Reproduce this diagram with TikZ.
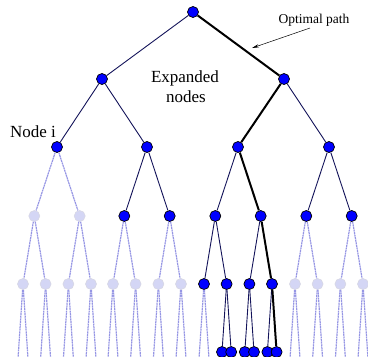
\documentclass[tikz,border=0pt]{standalone}
\usepackage{fontspec}
\setmainfont{Liberation Serif}
\usetikzlibrary{arrows.meta}
\definecolor{navyedge}{RGB}{20,20,90}
\definecolor{lightedgecol}{RGB}{150,150,228}
\definecolor{lightfill}{RGB}{212,214,245}
\definecolor{lightrim}{RGB}{215,215,228}
\begin{document}
\begin{tikzpicture}[x=1pt,y=-1pt,
 expnode/.style={circle,draw=black,line width=0.7pt,fill=blue,inner sep=0pt,minimum size=11pt},
 unexpnode/.style={circle,draw=lightrim,line width=0.6pt,fill=lightfill,inner sep=0pt,minimum size=11pt},
 darkedge/.style={draw=navyedge,line width=0.9pt},
 optedge/.style={draw=black,line width=2pt},
 lightedge/.style={draw=lightedgecol,line width=1.2pt,dash pattern=on 2pt off 0.6pt},
 lbl/.style={inner sep=0pt,anchor=base}
]
\useasboundingbox (0,0) rectangle (368,357);
\clip (0,0) rectangle (368,357);
% level 0-2
\node[expnode] (r) at (193,12) {};
\node[expnode] (a1) at (102,79) {};
\node[expnode] (a2) at (284,79) {};
\node[expnode] (b1) at (57,147) {};
\node[expnode] (b2) at (147,147) {};
\node[expnode] (b3) at (238,147) {};
\node[expnode] (b4) at (329,147) {};
% level 3
\node[unexpnode] (c1) at (34.3,216) {};
\node[unexpnode] (c2) at (79.7,216) {};
\node[expnode] (c3) at (124.3,216) {};
\node[expnode] (c4) at (169.7,216) {};
\node[expnode] (c5) at (215.3,216) {};
\node[expnode] (c6) at (260.7,216) {};
\node[expnode] (c7) at (306.3,216) {};
\node[expnode] (c8) at (351.7,216) {};
% level 4
\foreach \i/\x in {1/23,2/45.6,3/68.4,4/91,5/113,6/135.6,7/158.4,8/181,13/295,14/317.6,15/340.4,16/363}
  \node[unexpnode] (d\i) at (\x,284) {};
\node[expnode] (d9) at (204,284) {};
\node[expnode] (d10) at (226.6,284) {};
\node[expnode] (d11) at (249.4,284) {};
\node[expnode] (d12) at (272,284) {};
% level 5
\node[expnode] (e19) at (222,352) {};
\node[expnode] (e20) at (231.2,352) {};
\node[expnode] (e21) at (244.8,352) {};
\node[expnode] (e22) at (254,352) {};
\node[expnode] (e23) at (267.4,352) {};
\node[expnode] (e24) at (276.6,352) {};
% dark edges
\draw[darkedge] (r) -- (a1);
\draw[darkedge] (a1) -- (b1);
\draw[darkedge] (a1) -- (b2);
\draw[darkedge] (a2) -- (b4);
\draw[darkedge] (b2) -- (c3);
\draw[darkedge] (b2) -- (c4);
\draw[darkedge] (b3) -- (c5);
\draw[darkedge] (b4) -- (c7);
\draw[darkedge] (b4) -- (c8);
\draw[darkedge] (c5) -- (d9);
\draw[darkedge] (c5) -- (d10);
\draw[darkedge] (c6) -- (d11);
\draw[darkedge] (d10) -- (e19);
\draw[darkedge] (d10) -- (e20);
\draw[darkedge] (d11) -- (e21);
\draw[darkedge] (d11) -- (e22);
\draw[darkedge] (d12) -- (e23);
% optimal path
\draw[optedge] (r) -- (a2);
\draw[optedge] (a2) -- (b3);
\draw[optedge] (b3) -- (c6);
\draw[optedge] (c6) -- (d12);
\draw[optedge] (d12) -- (e24);
% light edges
\draw[lightedge] (b1) -- (c1);
\draw[lightedge] (b1) -- (c2);
\draw[lightedge] (c1) -- (d1);
\draw[lightedge] (c1) -- (d2);
\draw[lightedge] (c2) -- (d3);
\draw[lightedge] (c2) -- (d4);
\draw[lightedge] (c3) -- (d5);
\draw[lightedge] (c3) -- (d6);
\draw[lightedge] (c4) -- (d7);
\draw[lightedge] (c4) -- (d8);
\draw[lightedge] (c7) -- (d13);
\draw[lightedge] (c7) -- (d14);
\draw[lightedge] (c8) -- (d15);
\draw[lightedge] (c8) -- (d16);
\foreach \i in {1,2,3,4,5,6,7,8,9,13,14,15,16} {
  \path (d\i.center) ++(-5.1,76) coordinate (fL\i);
  \path (d\i.center) ++(5.1,76) coordinate (fR\i);
  \draw[lightedge] (d\i) -- (fL\i);
  \draw[lightedge] (d\i) -- (fR\i);
}
% labels
\node[lbl,font=\fontsize{17}{20}\selectfont] (expA) at (185,82) {Expanded};
\node[lbl,font=\fontsize{17}{20}\selectfont] (expB) at (186,102) {nodes};
\node[lbl,font=\fontsize{17}{20}\selectfont] (nodei) at (33,137) {Node i};
\node[lbl,font=\fontsize{13.5}{16}\selectfont] (opt) at (314,23) {Optimal path};
\coordinate (arrS) at (310,28);
\coordinate (arrT) at (252,48);
\draw[line width=0.5pt,-{Stealth[length=7pt,width=3.2pt]}] (arrS) -- (arrT);
\end{tikzpicture}
\end{document}
